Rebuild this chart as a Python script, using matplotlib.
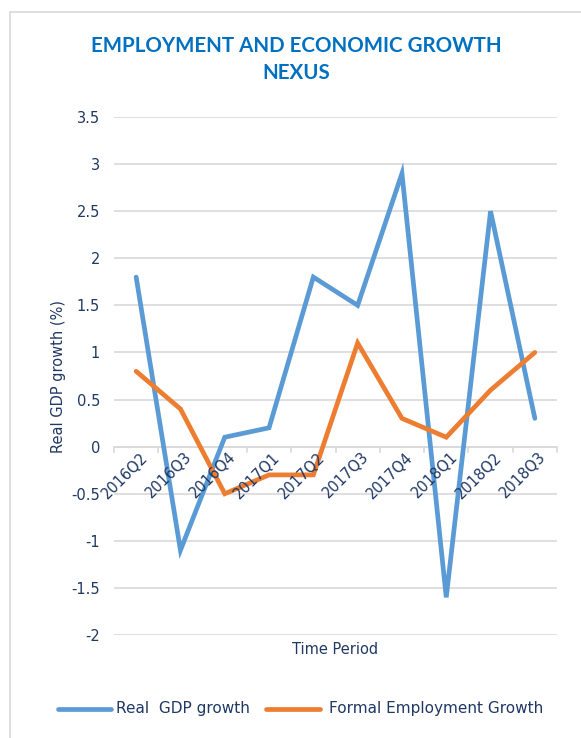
import matplotlib
matplotlib.use("Agg")
import matplotlib.pyplot as plt
from matplotlib.lines import Line2D
from matplotlib.patches import Rectangle

periods = ["2016Q2", "2016Q3", "2016Q4", "2017Q1", "2017Q2",
           "2017Q3", "2017Q4", "2018Q1", "2018Q2", "2018Q3"]
gdp_growth = [1.8, -1.1, 0.1, 0.2, 1.8, 1.5, 2.9, -1.6, 2.5, 0.3]
employment_growth = [0.8, 0.4, -0.5, -0.3, -0.3, 1.1, 0.3, 0.1, 0.6, 1.0]
y_ticks = [-2, -1.5, -1, -0.5, 0, 0.5, 1, 1.5, 2, 2.5, 3, 3.5]
y_tick_labels = ["-2", "-1.5", "-1", "-0.5", "0", "0.5", "1", "1.5", "2", "2.5", "3", "3.5"]

BLUE = "#5B9BD5"
ORANGE = "#ED7D31"
NAVY = "#1F3864"
GRID = "#D9D9D9"
FONT = ["DejaVu Sans"]
FS = 10.5

fig = plt.figure(figsize=(5.81, 7.38), dpi=100)
W, H = 581, 738

# light frame around the chart area
fig.patches.append(Rectangle((10 / W, -0.1), 1.2, 1 - 12 / H + 0.1,
                             transform=fig.transFigure, fill=False,
                             edgecolor="#D9D9D9", linewidth=1.2))

ax = fig.add_axes([114 / W, 1 - 635 / H, (557 - 114) / W, (635 - 117) / H])
x = list(range(len(periods)))
ax.plot(x, gdp_growth, color=BLUE, linewidth=3.4, solid_capstyle="round",
        solid_joinstyle="miter", zorder=3)
ax.plot(x, employment_growth, color=ORANGE, linewidth=3.4, solid_capstyle="round",
        solid_joinstyle="miter", zorder=3)

ax.set_xlim(-0.5, len(periods) - 0.5)
ax.set_ylim(-2, 3.5)
ax.set_yticks(y_ticks)
ax.set_yticklabels(y_tick_labels, family=FONT, fontsize=FS, color=NAVY)
ax.yaxis.grid(True, color=GRID, linewidth=1.2)
ax.tick_params(axis="y", length=0, pad=10)
for s in ax.spines.values():
    s.set_visible(False)

# category axis at zero with boundary tick marks
ax.axhline(0, color=GRID, linewidth=1.2, zorder=1)
for b in [i - 0.5 for i in range(len(periods) + 1)]:
    ax.plot([b, b], [0, -0.06], color=GRID, linewidth=1.2, zorder=1, clip_on=False)

ax.set_xticks([])
for i, lab in enumerate(periods):
    ax.text(i + 0.08, -0.03, lab, rotation=45, ha="right", va="top",
            rotation_mode="anchor", family=FONT, fontsize=FS, color=NAVY)

fig.text(58 / W, 1 - 377 / H, "Real GDP growth (%)", rotation=90, ha="center",
         va="center", family=FONT, fontsize=FS, color=NAVY)
fig.text((114 + 557) / 2 / W, 1 - 650 / H, "Time Period", ha="center", va="center",
         family=FONT, fontsize=FS, color=NAVY)

TITLE_FONT = ["Lato", "DejaVu Sans"]
fig.text(296 / W, 1 - 46 / H, "EMPLOYMENT AND ECONOMIC GROWTH", ha="center",
         va="center", family=TITLE_FONT, fontsize=14.8, fontweight="bold", color="#0070C0")
fig.text(296 / W, 1 - 73 / H, "NEXUS", ha="center",
         va="center", family=TITLE_FONT, fontsize=14.8, fontweight="bold", color="#0070C0")

# legend
ly = 1 - 709 / H
fig.add_artist(Line2D([58 / W, 111 / W], [ly, ly], color=BLUE, linewidth=3.4,
                      solid_capstyle="round", transform=fig.transFigure))
fig.text(116 / W, ly, "Real  GDP growth", va="center", family=FONT, fontsize=FS + 0.5, color=NAVY)
fig.add_artist(Line2D([266 / W, 320 / W], [ly, ly], color=ORANGE, linewidth=3.4,
                      solid_capstyle="round", transform=fig.transFigure))
fig.text(329 / W, ly, "Formal Employment Growth", va="center", family=FONT, fontsize=FS + 0.5, color=NAVY)

fig.savefig("out.png", dpi=100)
